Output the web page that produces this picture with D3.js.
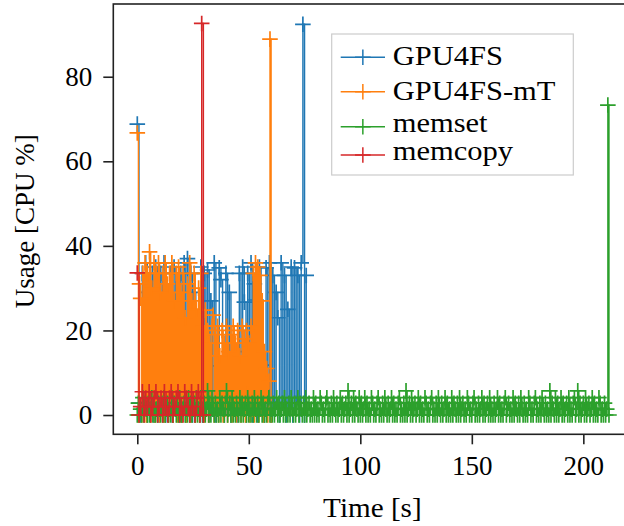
<!DOCTYPE html>
<html>
<head>
<meta charset="utf-8">
<script src="https://cdn.jsdelivr.net/npm/d3@7"></script>
<style>
    body{ margin:0; background:#fff; }
    svg{ display:block; font-family:"Liberation Serif","Times New Roman",serif; }
</style>
</head>
<body>
<script>
// Wrap entire script in a self-executing function
(function(){

    // Pseudo-global data
    var seriesNames = ["GPU4FS", "GPU4FS-mT", "memset", "memcopy"];
    var seriesColors = ["#1f77b4", "#ff7f0e", "#2ca02c", "#d62728"];
    // sampling interval of each series in seconds
    var sampleStep = [0.75, 0.5, 0.5, 0.76];

    var gpu4fsValues = [68.8,
        2.8, 0, 33.5, 1.4, 36, 0, 29, 2.8, 33.5, 0,
        35, 23, 0, 33.5, 5, 36, 0, 17, 1.4, 33.5,
        0, 35, 2.8, 11.5, 0, 33.5, 1.4, 36, 0, 37,
        2.8, 33.5, 0, 29, 1.4, 11.5, 7.8, 35, 0, 33.5,
        2.8, 34.3, 0, 27, 1.4, 36, 0, 11.6, 34.8, 32,
        7.8, 0, 33.5, 1.4, 29, 0, 13.7, 2.8, 15, 0,
        33.5, 1.4, 35, 26.7, 0, 33.5, 2.8, 36, 0, 31,
        27.2, 0, 35, 1.4, 11.8, 0, 34.8, 2.8, 36, 0,
        33, 1.4, 29, 23, 0, 36, 2.8, 33, 0, 25,
        1.4, 35, 0, 34.8, 2.8, 33, 0, 36, 92.4, 0,
        33];

    var gpu4fsMtValues = [66.7,
        0, 31, 27.6, 0, 33.5, 1.4, 36, 0, 33.5, 2.8,
        38.6, 0, 30, 1.4, 36, 0, 33.5, 5, 36, 0,
        29, 1.4, 33.5, 0, 36, 2.8, 31, 0, 33.5, 1.4,
        36, 0, 27, 2.8, 33.5, 0, 35, 1.4, 29, 0,
        33.5, 5, 23, 0, 31, 1.4, 36, 0, 27, 2.8,
        33.5, 0, 25, 1.4, 30, 0, 33.5, 2.8, 21, 0,
        24.8, 1.4, 20, 0, 17, 2.8, 21, 23.6, 0, 19,
        1.4, 21, 0, 14, 2.8, 20, 0, 17, 1.4, 21,
        0, 15, 2.8, 19, 0, 21, 1.4, 17, 0, 20,
        2.8, 14, 0, 21, 1.4, 18, 0, 20, 5, 17,
        0, 21, 1.4, 33.5, 0, 36, 2.8, 35, 0, 33,
        1.4, 27, 0, 15, 2.8, 11, 0, 8, 88.9, 0];

    var memsetValues = [
        0, 2.8, 0, 1.4, 0, 4.1, 0, 2.8, 1.4, 0, 2.8, 0, 1.4, 4.1, 0, 2.8, 0, 1.4, 0, 2.8,
        1.4, 0, 2.8, 0, 4.1, 0, 1.4, 2.8, 0, 1.4, 0, 4.1, 0, 2.8, 1.4, 0, 2.8, 0, 4.1, 0,
        0, 1.4, 2.8, 0, 1.4, 0, 4.1, 0, 2.8, 0, 1.4, 2.8, 0, 4.1, 0, 1.4, 0, 2.8, 1.4, 0,
        2.8, 0, 1.4, 5.7, 0, 2.8, 0, 4.1, 1.4, 0, 2.8, 0, 1.4, 0, 4.1, 0, 2.8, 1.4, 0, 2.8,
        5.7, 0, 1.4, 2.8, 0, 4.1, 0, 1.4, 0, 2.8, 1.4, 0, 4.1, 0, 2.8, 0, 1.4, 2.8, 0, 4.1,
        0, 1.4, 0, 2.8, 0, 4.1, 1.4, 0, 2.8, 0, 1.4, 4.1, 0, 2.8, 0, 1.4, 0, 2.8, 4.1, 0,
        1.4, 0, 2.8, 0, 1.4, 4.1, 0, 2.8, 0, 1.4, 2.8, 0, 4.1, 0, 1.4, 0, 2.8, 0, 4.1, 1.4,
        0, 2.8, 0, 1.4, 4.1, 0, 2.8, 1.4, 0, 2.8, 0, 4.1, 0, 1.4, 2.8, 0, 1.4, 0, 4.1, 0,
        2.8, 0, 1.4, 0, 4.1, 2.8, 0, 1.4, 0, 2.8, 4.1, 0, 1.4, 0, 2.8, 0, 4.1, 1.4, 0, 2.8,
        0, 1.4, 4.1, 0, 2.8, 0, 1.4, 2.8, 0, 5.7, 0, 1.4, 2.8, 0, 4.1, 0, 2.8, 1.4, 0, 4.1,
        0, 2.8, 0, 1.4, 4.1, 0, 2.8, 0, 1.4, 0, 4.1, 2.8, 0, 1.4, 0, 2.8, 4.1, 0, 1.4, 0,
        2.8, 0, 4.1, 1.4, 0, 2.8, 0, 1.4, 4.1, 0, 2.8, 0, 1.4, 0, 2.8, 4.1, 0, 1.4, 0, 2.8,
        0, 5.7, 0, 1.4, 2.8, 0, 4.1, 0, 1.4, 2.8, 0, 1.4, 4.1, 0, 2.8, 0, 1.4, 0, 4.1, 2.8,
        0, 1.4, 0, 2.8, 4.1, 0, 1.4, 0, 2.8, 0, 4.1, 1.4, 0, 2.8, 0, 1.4, 4.1, 0, 2.8, 0,
        1.4, 0, 4.1, 0, 2.8, 1.4, 0, 2.8, 0, 4.1, 0, 1.4, 2.8, 0, 1.4, 0, 4.1, 2.8, 0, 1.4,
        0, 2.8, 4.1, 0, 1.4, 0, 2.8, 0, 1.4, 4.1, 0, 2.8, 0, 1.4, 2.8, 0, 4.1, 0, 1.4, 0,
        2.8, 0, 1.4, 4.1, 0, 2.8, 0, 1.4, 0, 2.8, 4.1, 0, 1.4, 2.8, 0, 1.4, 0, 4.1, 0, 2.8,
        1.4, 0, 2.8, 0, 4.1, 1.4, 0, 2.8, 0, 1.4, 0, 4.1, 2.8, 0, 1.4, 0, 2.8, 4.1, 0, 1.4,
        0, 2.8, 0, 4.1, 1.4, 0, 2.8, 0, 1.4, 0, 5.7, 0, 2.8, 1.4, 0, 4.1, 0, 2.8, 0, 1.4,
        4.1, 0, 2.8, 0, 1.4, 2.8, 0, 4.1, 0, 1.4, 0, 2.8, 4.1, 0, 1.4, 5.7, 0, 2.8, 0, 1.4,
        2.8, 0, 4.1, 0, 1.4, 2.8, 0, 1.4, 4.1, 0, 2.8, 0, 1.4, 0, 4.1, 2.8, 0, 1.4, 0, 2.8,
        0, 1.4, 73.3, 0];

    var memcopyValues = [33.6,
        0, 2, 5.5, 0, 4, 2, 5.5, 0, 2, 4,
        5.5, 0, 2, 4, 0, 5.5, 2, 0, 4, 5.5,
        0, 2, 4, 5.5, 0, 2, 0, 5.5, 4, 2,
        0, 5.5, 2, 0, 4, 5.5, 0, 92.6, 0];

    var xTicks = [0, 50, 100, 150, 200];
    var yTicks = [0, 20, 40, 60, 80];
    var xLabel = "Time [s]";
    var yLabel = "Usage [CPU %]";

    var allValues = [gpu4fsValues, gpu4fsMtValues, memsetValues, memcopyValues];

    setChart();

    function setChart(){
        var width = 624,
            height = 526,
            left = 113.3,
            right = 631.5,
            top = 4,
            bottom = 434.3,
            fontSize = 27;

        var svg = d3.select("body")
            .append("svg")
            .attr("width", width)
            .attr("height", height);

        var x = d3.scaleLinear().domain([-10.76, 221.6]).range([left, right]);
        var y = d3.scaleLinear().domain([-4.56, 97.2]).range([bottom, top]);

        svg.append("clipPath")
            .attr("id", "plotClip")
            .append("rect")
            .attr("x", left).attr("y", top)
            .attr("width", right - left).attr("height", bottom - top);

        // samples are drawn as vertical jumps, like the original trace
        var line = d3.line()
            .curve(d3.curveStepAfter)
            .x(function(d){ return x(d.t); })
            .y(function(d){ return y(d.v); });

        var cross = "M-7.8,0H7.8M0,-7.8V7.8";

        var plot = svg.append("g").attr("clip-path", "url(#plotClip)");

        allValues.forEach(function(vals, s){
            var pts = vals.map(function(v, i){ return {t: i * sampleStep[s], v: v}; });
            var g = plot.append("g").attr("class", "series");
            g.append("path")
                .datum(pts)
                .attr("d", line)
                .attr("fill", "none")
                .attr("stroke", seriesColors[s])
                .attr("stroke-width", 1.4);
            g.selectAll(".marker")
                .data(pts)
                .enter()
                .append("path")
                .attr("class", "marker")
                .attr("d", cross)
                .attr("transform", function(d){ return "translate(" + x(d.t) + "," + y(d.v) + ")"; })
                .attr("stroke", seriesColors[s])
                .attr("stroke-width", 1.7)
                .attr("fill", "none");
        });

        // axes
        var xAxis = d3.axisBottom(x).tickValues(xTicks).tickSize(10).tickPadding(12);
        var yAxis = d3.axisLeft(y).tickValues(yTicks).tickSize(10).tickPadding(11);

        var gx = svg.append("g")
            .attr("transform", "translate(0," + bottom + ")")
            .call(xAxis);
        var gy = svg.append("g")
            .attr("transform", "translate(" + left + ",0)")
            .call(yAxis);

        [gx, gy].forEach(function(g){
            g.select(".domain").remove();
            g.selectAll(".tick line").attr("stroke", "#222").attr("stroke-width", 1.6);
            g.selectAll(".tick text")
                .attr("fill", "#000")
                .style("font-size", fontSize + "px")
                .style("font-family", "'Liberation Serif', serif");
        });

        // spines
        svg.append("rect")
            .attr("x", left).attr("y", top)
            .attr("width", right - left).attr("height", bottom - top)
            .attr("fill", "none")
            .attr("stroke", "#222")
            .attr("stroke-width", 1.6);

        // axis titles
        var xt = svg.append("text")
            .attr("x", (left + right) / 2)
            .attr("y", 517)
            .attr("text-anchor", "middle")
            .style("font-size", fontSize + "px")
            .text(xLabel);
        xt.attr("textLength", xt.node().getComputedTextLength() * 1.08)
            .attr("lengthAdjust", "spacingAndGlyphs");

        svg.append("text")
            .attr("transform", "translate(34," + ((top + bottom) / 2 + 2) + ") rotate(-90)")
            .attr("text-anchor", "middle")
            .style("font-size", fontSize + "px")
            .text(yLabel);

        setLegend(svg, fontSize);
    }

    function setLegend(svg, fontSize){
        var box = {x: 331.7, y: 34, w: 241.6, h: 141},
            handleX0 = 340.7,
            handleX1 = 385,
            textX = 392.7,
            rowLineY = [57.3, 91.7, 126.7, 155],
            rowBaseY = [65, 100, 132.3, 160];

        var legend = svg.append("g").attr("class", "legend");

        legend.append("rect")
            .attr("x", box.x).attr("y", box.y)
            .attr("width", box.w).attr("height", box.h)
            .attr("fill", "#fff")
            .attr("fill-opacity", 0.8)
            .attr("stroke", "#cccccc")
            .attr("stroke-width", 1.2);

        seriesNames.forEach(function(name, i){
            legend.append("line")
                .attr("x1", handleX0).attr("x2", handleX1)
                .attr("y1", rowLineY[i]).attr("y2", rowLineY[i])
                .attr("stroke", seriesColors[i])
                .attr("stroke-width", 1.5);
            legend.append("path")
                .attr("d", "M-7.8,0H7.8M0,-7.8V7.8")
                .attr("transform", "translate(" + ((handleX0 + handleX1) / 2) + "," + rowLineY[i] + ")")
                .attr("stroke", seriesColors[i])
                .attr("stroke-width", 1.5);
            var t = legend.append("text")
                .attr("x", textX)
                .attr("y", rowBaseY[i])
                .style("font-size", fontSize + "px")
                .text(name);
            t.attr("textLength", t.node().getComputedTextLength() * 1.13)
                .attr("lengthAdjust", "spacingAndGlyphs");
        });
    }

})();
</script>
</body>
</html>
